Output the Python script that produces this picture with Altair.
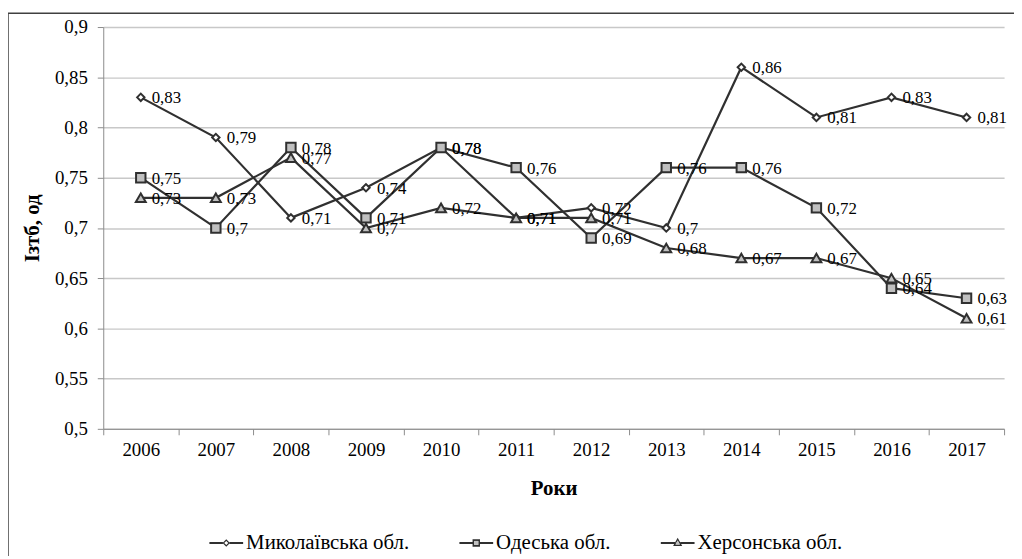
import altair as alt
import pandas as pd

years = ["2006", "2007", "2008", "2009", "2010", "2011", "2012", "2013", "2014", "2015", "2016", "2017"]
series_names = ["Миколаївська обл.", "Одеська обл.", "Херсонська обл."]
mykolaiv = [0.83, 0.79, 0.71, 0.74, 0.78, 0.71, 0.72, 0.70, 0.86, 0.81, 0.83, 0.81]
odesa = [0.75, 0.70, 0.78, 0.71, 0.78, 0.76, 0.69, 0.76, 0.76, 0.72, 0.64, 0.63]
kherson = [0.73, 0.73, 0.77, 0.70, 0.72, 0.71, 0.71, 0.68, 0.67, 0.67, 0.65, 0.61]
y_ticks = [0.5, 0.55, 0.6, 0.65, 0.7, 0.75, 0.8, 0.85, 0.9]

rows = []
for name, vals in zip(series_names, [mykolaiv, odesa, kherson]):
    for yr, v in zip(years, vals):
        rows.append({"year": yr, "value": v, "series": name,
                     "label": ("%g" % v).replace(".", ",")})
df = pd.DataFrame(rows)

FONT = "Liberation Serif"
DARK = "#303030"
GRAY = "#c0c0c0"

x_enc = alt.X("year:N", sort=years,
              scale=alt.Scale(type="band", paddingInner=0, paddingOuter=0),
              axis=alt.Axis(title="Роки", labelAngle=0, tickBand="extent",
                            domainColor="#8c8c8c", tickColor="#8c8c8c",
                            tickSize=6, labelFontSize=19, labelFont=FONT,
                            labelPadding=6, labelColor="black",
                            titleFont=FONT, titleFontSize=21, titleFontWeight="bold",
                            titlePadding=18, titleColor="black", grid=False))
y_enc = alt.Y("value:Q",
              scale=alt.Scale(domain=[0.5, 0.9], nice=False, zero=False),
              axis=alt.Axis(title="Ізтб, од", values=y_ticks,
                            labelExpr="replace(format(datum.value, '.2~f'), '.', ',')",
                            domainColor="#8c8c8c", tickColor="#8c8c8c", tickSize=6,
                            labelFontSize=19, labelFont=FONT, labelPadding=10,
                            labelColor="black",
                            grid=True, gridColor="#c8c8c8", gridWidth=1.5,
                            titleFont=FONT, titleFontSize=21, titleFontWeight="bold",
                            titlePadding=12, titleColor="black"))

base = alt.Chart(df)

lines = base.mark_line(color=DARK, strokeWidth=2.2).encode(
    x=x_enc, y=y_enc, detail="series:N")

marker_shapes = ["diamond", "square", "triangle-up"]
marker_fills = ["white", GRAY, GRAY]
marker_sizes = [55, 90, 100]
point_layers = []
for name, shp, fil, sz in zip(series_names, marker_shapes, marker_fills, marker_sizes):
    point_layers.append(
        base.transform_filter(alt.datum.series == name).mark_point(
            shape=shp, filled=True, fill=fil, stroke=DARK, strokeWidth=2,
            size=sz, opacity=1).encode(x=x_enc, y=y_enc))

labels = base.mark_text(align="left", baseline="middle", dx=11, dy=1,
                        font=FONT, fontSize=17, color="black").encode(
    x=x_enc, y=y_enc, text="label:N")

# Legend symbols (unit = 17 px): dark line stubs + dark marker outline ...
legend_outline_paths = [
    "M-1,-0.06H-0.2V0.06H-1ZM0.2,-0.06H1V0.06H0.2Z"
    "M0,-0.22L0.22,0L0,0.22L-0.22,0ZM0,-0.12L-0.12,0L0,0.12L0.12,0Z",
    "M-1,-0.06H-0.22V0.06H-1ZM0.22,-0.06H1V0.06H0.22Z"
    "M-0.22,-0.22H0.22V0.22H-0.22ZM-0.12,-0.12V0.12H0.12V-0.12Z",
    "M-1,-0.06H-0.16V0.06H-1ZM0.16,-0.06H1V0.06H0.16Z"
    "M0,-0.3L0.27,0.18L-0.27,0.18ZM0,-0.14L-0.13,0.09L0.13,0.09Z",
]
# ... and the grey marker interiors (the diamond stays white)
legend_inner_paths = [
    "M0,0L0,0Z",
    "M-0.12,-0.12H0.12V0.12H-0.12Z",
    "M0,-0.14L0.13,0.09L-0.13,0.09Z",
]
legend_common = dict(title=None, orient="none", direction="horizontal",
                     columns=3, legendX=107, legendY=503,
                     symbolSize=1156, symbolStrokeWidth=0,
                     labelFont=FONT, labelFontSize=21, labelOffset=3,
                     labelLimit=400, columnPadding=50, padding=0)

legend_outline = base.transform_filter("false").mark_point(
    filled=True, fill=DARK, opacity=1).encode(
    shape=alt.Shape("series:N",
                    scale=alt.Scale(domain=series_names, range=legend_outline_paths),
                    legend=alt.Legend(labelColor="black", **legend_common)))
legend_inner = base.transform_filter("false").mark_point(
    filled=True, fill=GRAY, opacity=1).encode(
    shape=alt.Shape("series:N",
                    scale=alt.Scale(domain=series_names, range=legend_inner_paths),
                    legend=alt.Legend(labelColor="transparent", **legend_common)))

border = alt.Chart(pd.DataFrame({"a": [0]})).mark_rect(
    fill=None, stroke="#404040", strokeWidth=1.5).encode(
    x=alt.value(-96), x2=alt.value(1000), y=alt.value(-14), y2=alt.value(600))

chart = alt.layer(border, lines, *point_layers, labels,
                  legend_outline, legend_inner).resolve_scale(
    shape="independent"
).properties(
    width=908, height=405,
    padding={"left": 96, "top": 17, "right": 10, "bottom": 126},
    autosize="none",
).configure(font=FONT).configure_view(stroke=None)

chart.save("out.html", embed_options={"renderer": "svg", "actions": False})
